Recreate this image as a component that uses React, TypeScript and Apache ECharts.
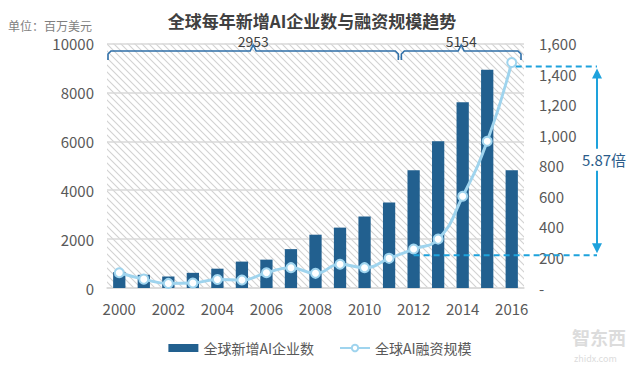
import React, { useEffect, useRef } from "react";
import * as echarts from "echarts";

const years = ["2000","2001","2002","2003","2004","2005","2006","2007","2008","2009","2010","2011","2012","2013","2014","2015","2016"];
const newCompanies = [650, 540, 470, 620, 790, 1080, 1160, 1590, 2180, 2470, 2920, 3500, 4820, 6000, 7600, 8930, 4820];
const funding = [100, 58, 30, 33, 56, 52, 100, 133, 96, 155, 133, 194, 255, 320, 600, 960, 1476];
const braceLabels = ["2953", "5154"];
const braceRanges = [["2000", "2011"], ["2012", "2016"]];
const ratioLabel = "5.87倍";
const ratioLevels = [215, 1450];
const seriesNames = ["全球新增AI企业数", "全球AI融资规模"];

const FONT = "'Noto Sans CJK SC', 'Noto Sans', sans-serif";

function makeHatch(): string {
  const s = 7;
  const c = document.createElement("canvas");
  c.width = s; c.height = s;
  const g = c.getContext("2d")!;
  g.fillStyle = "#ffffff";
  g.fillRect(0, 0, s, s);
  g.strokeStyle = "#d2d2d2";
  g.lineWidth = 1.1;
  g.beginPath();
  g.moveTo(-1, -1); g.lineTo(s + 1, s + 1);
  g.moveTo(-1, s - 1); g.lineTo(1, s + 1);
  g.moveTo(s - 1, -1); g.lineTo(s + 1, 1);
  g.stroke();
  return c.toDataURL();
}

export default function App() {
  const ref = useRef<HTMLDivElement>(null);
  useEffect(() => {
    const chart = echarts.init(ref.current!, undefined, { renderer: "svg" });
    const option: any = {
      animation: false,
      textStyle: { fontFamily: FONT },
      grid: {
        left: 107, right: 116, top: 43.5, bottom: 77,
        show: true, borderWidth: 0,
        backgroundColor: { image: makeHatch(), repeat: "repeat" },
      },
      xAxis: {
        type: "category",
        data: years,
        axisTick: { show: false },
        axisLine: { lineStyle: { color: "#d9d9d9", width: 1.5 } },
        axisLabel: { interval: 1, color: "#595959", fontSize: 15, margin: 13, fontFamily: FONT },
      },
      yAxis: [
        {
          type: "value", min: 0, max: 10000, interval: 2000,
          axisLine: { show: false }, axisTick: { show: false },
          splitLine: { lineStyle: { color: "#d9d9d9", width: 1.5 } },
          axisLabel: { color: "#595959", fontSize: 15, margin: 13, fontFamily: FONT, formatter: (v: number) => String(v) },
        },
        {
          type: "value", min: 0, max: 1600, interval: 200,
          axisLine: { show: false }, axisTick: { show: false },
          splitLine: { show: false },
          axisLabel: {
            color: "#595959", fontSize: 15, margin: 15, fontFamily: FONT,
            formatter: (v: number) => (v === 0 ? "-" : v.toLocaleString("en-US")),
          },
        },
      ],
      legend: {
        bottom: 5, left: "center", itemWidth: 30, itemHeight: 8, itemGap: 25,
        textStyle: { color: "#595959", fontSize: 14, fontFamily: FONT },
        data: [
          { name: seriesNames[0], icon: "rect" },
          { name: seriesNames[1] },
        ],
      },
      series: [
        {
          name: seriesNames[0], type: "bar", data: newCompanies, barWidth: "50%",
          itemStyle: { color: "#22608f" },
        },
        {
          name: seriesNames[1], type: "line", yAxisIndex: 1, data: funding, smooth: true,
          symbol: "circle", symbolSize: 9,
          lineStyle: { color: "#9fd4ee", width: 3 },
          itemStyle: { color: "#ffffff", borderColor: "#9fd4ee", borderWidth: 2 },
          z: 5,
        },
      ],
    };
    chart.setOption(option);

    const px = (cat: string, v: number, yi = 0) =>
      chart.convertToPixel({ xAxisIndex: 0, yAxisIndex: yi } as any, [cat, v]) as number[];
    const band = px(years[1], 0)[0] - px(years[0], 0)[0];
    const braceColor = "#2f6fa8";
    const braceY = 51;
    const graphics: any[] = [];
    braceRanges.forEach((r, i) => {
      const x0 = px(r[0], 0)[0] - band / 2 + (i === 0 ? 1 : 0);
      const x1 = px(r[1], 0)[0] + band / 2 - 3;
      const c = (x0 + x1) / 2;
      graphics.push({
        type: "polyline",
        shape: {
          points: [
            [x0, 60], [x0, 54], [x0 + 3, braceY], [c - 3, braceY], [c, 45],
            [c + 3, braceY], [x1 - 3, braceY], [x1, 54], [x1, 60],
          ],
        },
        style: { stroke: braceColor, lineWidth: 1.6, fill: null },
        z: 10,
      });
      graphics.push({
        type: "text", x: c, y: 41,
        style: { text: braceLabels[i], fill: "#404040", font: `14px ${FONT}`, textAlign: "center", textVerticalAlign: "middle" },
        z: 9,
      });
    });

    const gridRight = px(years[16], 0)[0] + band / 2;
    const ax = gridRight + 73;
    const yBot = px(years[12], ratioLevels[0], 1)[1];
    const yTop = px(years[16], ratioLevels[1], 1)[1];
    const xBotStart = px(years[12], 0)[0];
    const xTopStart = px(years[16], 0)[0] + 4;
    const blue = "#1ea2dc";
    graphics.push(
      { type: "line", shape: { x1: xBotStart, y1: yBot, x2: ax, y2: yBot }, style: { stroke: blue, lineWidth: 2, lineDash: [6, 4] }, z: 10 },
      { type: "line", shape: { x1: xTopStart, y1: yTop, x2: ax, y2: yTop }, style: { stroke: blue, lineWidth: 2, lineDash: [6, 4] }, z: 10 },
      { type: "line", shape: { x1: ax, y1: yTop + 10, x2: ax, y2: yBot - 10 }, style: { stroke: blue, lineWidth: 2 }, z: 10 },
      { type: "polygon", shape: { points: [[ax, yTop + 2], [ax - 5, yTop + 12], [ax + 5, yTop + 12]] }, style: { fill: blue }, z: 10 },
      { type: "polygon", shape: { points: [[ax, yBot - 2], [ax - 5, yBot - 12], [ax + 5, yBot - 12]] }, style: { fill: blue }, z: 10 },
      { type: "rect", shape: { x: ax - 14, y: (yTop + yBot) / 2 - 12, width: 48, height: 22 }, style: { fill: "#ffffff" }, z: 11 },
      {
        type: "text", x: ax + 7, y: (yTop + yBot) / 2 - 1,
        style: { text: ratioLabel, fill: "#2b5c8a", font: `15px ${FONT}`, textAlign: "center", textVerticalAlign: "middle" },
        z: 12,
      },
      {
        type: "text", x: 8, y: 25,
        style: { text: "单位：百万美元", fill: "#7f7f7f", font: `12px ${FONT}`, textVerticalAlign: "middle" },
      },
      {
        type: "text", x: 312, y: 20,
        style: { text: "全球每年新增AI企业数与融资规模趋势", fill: "#404040", font: `bold 17px ${FONT}`, textAlign: "center", textVerticalAlign: "middle" },
      },
      {
        type: "text", x: 572, y: 337,
        style: { text: "智东西", fill: "#dcdcdc", font: `bold 18px ${FONT}`, textVerticalAlign: "middle" },
      },
      {
        type: "text", x: 574, y: 358,
        style: { text: "zhidx.com", fill: "#dcdcdc", font: `9px ${FONT}`, textVerticalAlign: "middle" },
      }
    );
    chart.setOption({ graphic: graphics });
    return () => chart.dispose();
  }, []);
  return <div ref={ref} style={{ width: 640, height: 365, position: "absolute", left: 0, top: 0 }} />;
}
